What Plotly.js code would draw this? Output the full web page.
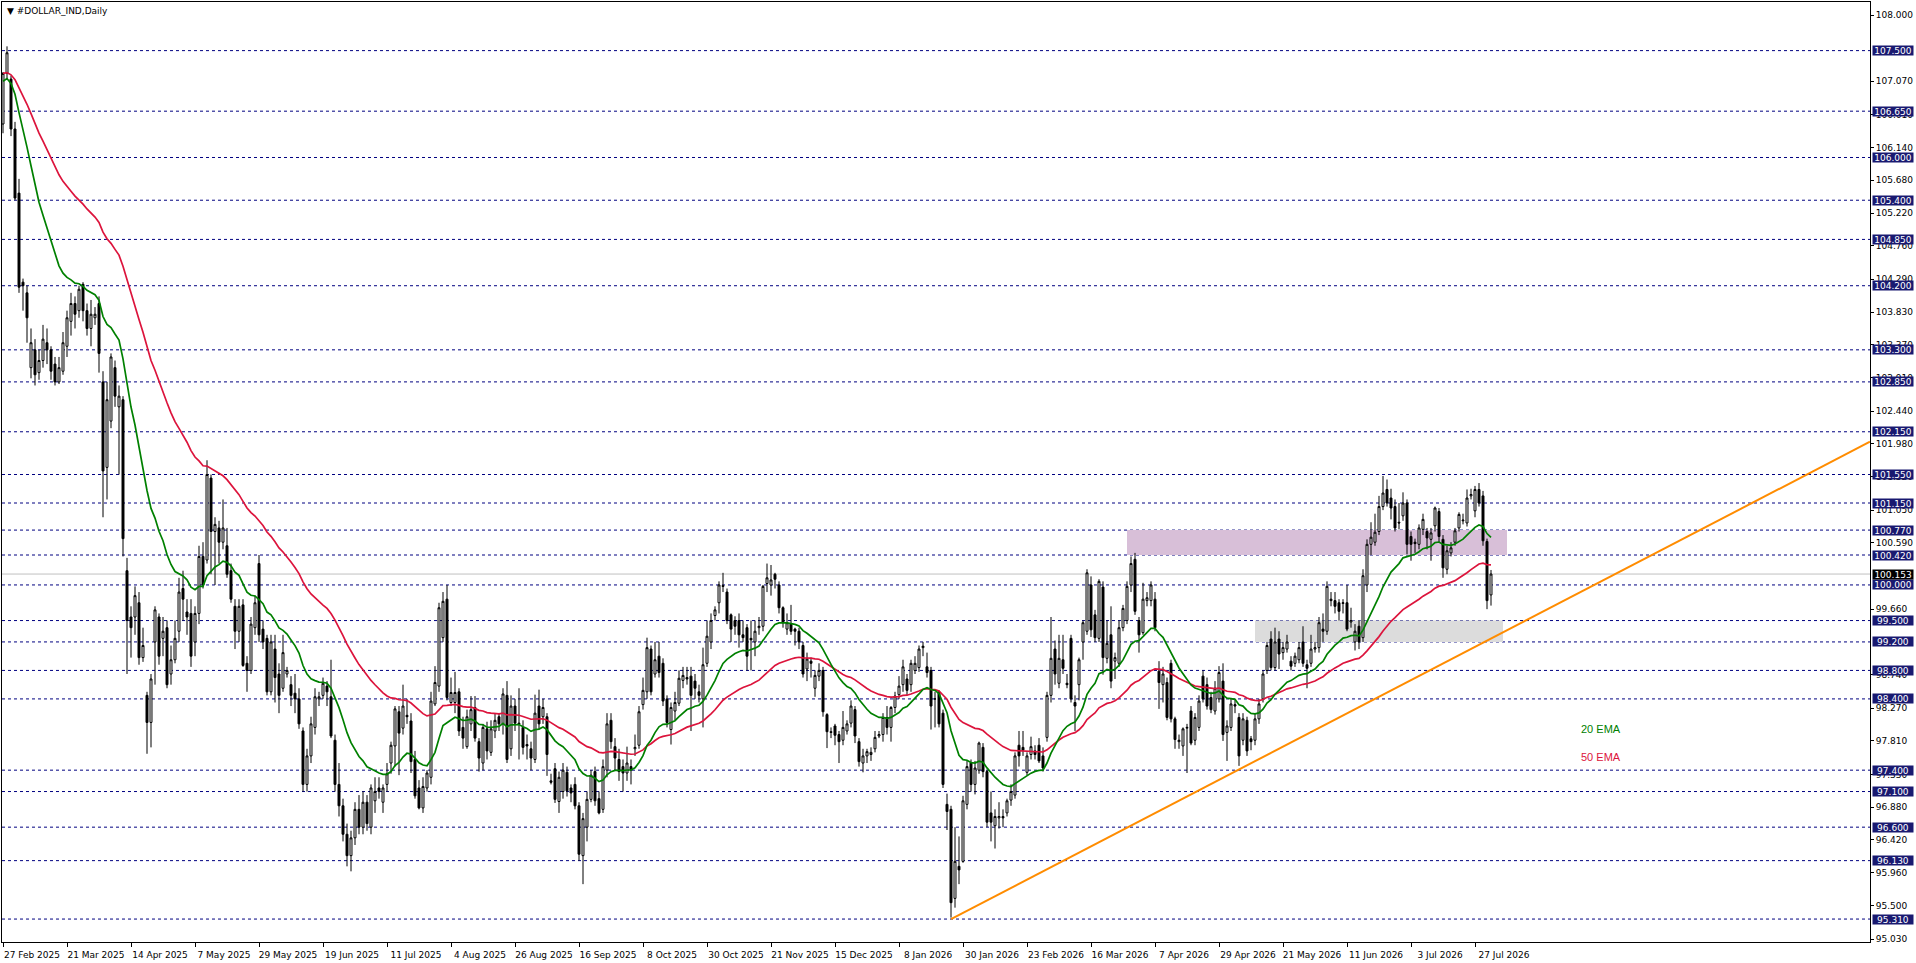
<!DOCTYPE html>
<html><head><meta charset="utf-8">
<script src="https://cdn.plot.ly/plotly-3.0.1.min.js"></script>
<style>html,body{margin:0;padding:0;background:#fff;overflow:hidden}#chart{width:1916px;height:963px}</style>
</head><body><div id="chart"></div>
<script>
// ---- data ----
const dateLabels = ['27 Feb 2025','21 Mar 2025','14 Apr 2025','7 May 2025','29 May 2025','19 Jun 2025','11 Jul 2025','4 Aug 2025','26 Aug 2025','16 Sep 2025','8 Oct 2025','30 Oct 2025','21 Nov 2025','15 Dec 2025','8 Jan 2026','30 Jan 2026','23 Feb 2026','16 Mar 2026','7 Apr 2026','29 Apr 2026','21 May 2026','11 Jun 2026','3 Jul 2026','27 Jul 2026'];
const dateLabelBars = [0,16,32,48,64,80,96,112,128,144,160,176,192,208,224,240,256,272,288,304,320,336,352,368];

const openP = [
106.47,107.18,107.10,106.40,105.50,104.25,104.10,103.05,103.30,102.98,
103.15,103.40,103.30,103.10,102.85,103.00,103.35,103.70,103.95,103.85,
104.22,103.85,103.60,103.75,103.95,102.85,101.65,102.30,103.05,102.50,
102.60,100.20,99.55,99.55,99.75,98.98,98.45,98.07,99.20,99.55,
99.25,99.40,98.75,98.95,99.35,99.95,99.62,99.60,99.20,99.60,
100.40,100.35,101.50,100.75,100.80,100.60,100.55,100.20,99.70,99.35,
99.72,98.90,98.80,99.40,100.30,99.38,99.25,98.50,99.10,98.75,
98.55,98.75,98.60,98.48,98.40,97.95,97.20,97.60,98.00,98.40,
98.45,98.58,98.43,97.82,97.20,96.90,96.50,96.20,96.45,96.85,
96.60,96.95,96.60,96.97,97.15,96.95,97.20,97.50,97.74,98.22,
97.99,98.17,98.09,97.55,97.15,96.87,97.15,97.30,98.33,98.58,
99.26,99.80,98.35,98.35,98.50,98.00,97.73,98.05,98.28,97.80,
97.50,97.98,97.65,97.95,98.15,98.05,98.45,97.70,98.30,98.06,
98.00,97.76,97.70,97.55,98.30,98.15,98.15,97.25,97.42,96.96,
97.10,97.37,97.15,97.20,96.90,96.20,96.60,96.99,97.38,97.00,
96.85,97.40,98.10,97.73,97.55,97.45,97.36,97.45,97.70,97.75,
98.32,98.50,99.10,98.75,99.00,98.90,98.40,97.97,98.23,98.34,
98.66,98.70,98.72,98.65,98.50,98.40,98.90,99.20,99.57,99.75,
99.99,99.90,99.58,99.50,99.50,99.30,99.40,99.25,99.20,99.40,
99.42,100.02,100.00,100.15,100.00,99.68,99.38,99.45,99.38,99.35,
99.15,98.82,98.93,98.55,98.72,98.80,98.18,97.94,98.02,97.90,
97.82,97.95,98.06,98.25,97.80,97.50,97.60,97.62,97.70,97.88,
97.90,98.14,98.00,98.28,98.46,98.60,98.68,98.60,98.80,98.84,
99.12,98.85,98.80,98.40,98.50,98.20,96.92,96.85,95.60,96.05,
96.12,96.92,97.50,97.20,97.40,97.72,97.38,96.80,96.62,96.73,
96.75,96.80,96.98,97.05,97.75,97.72,97.37,97.62,97.67,97.75,
97.60,97.86,98.45,99.10,98.62,98.95,98.62,99.25,98.35,98.60,
99.20,99.35,100.00,99.58,99.25,99.97,98.97,99.30,98.93,98.90,
99.40,99.50,100.00,100.36,99.50,99.33,99.78,99.78,99.80,98.79,
98.60,98.63,98.90,98.12,97.80,97.74,97.99,98.23,97.82,98.00,
98.72,98.60,98.42,98.23,98.40,98.65,97.93,98.00,98.32,98.14,
97.82,98.10,97.84,97.82,98.12,98.40,98.80,99.24,98.84,99.24,
99.05,99.10,98.93,98.90,98.95,99.20,98.88,98.90,99.10,99.12,
99.38,99.35,99.80,99.78,99.75,99.74,99.75,99.48,99.20,99.42,
99.26,100.00,100.57,100.60,100.75,101.10,101.34,101.22,101.10,100.88,
100.97,101.15,100.68,100.60,100.57,100.78,100.75,100.64,100.83,101.03,
100.64,100.22,100.45,100.60,100.80,100.90,100.87,101.25,101.04,101.34,
101.25,100.61,99.86];

const highP = [
107.20,107.56,107.15,106.50,105.70,104.30,104.20,103.60,103.45,103.30,
103.65,103.60,103.35,103.20,103.20,103.55,103.85,104.10,104.05,104.20,
104.25,103.95,104.00,103.90,104.05,103.00,102.85,103.25,103.15,102.80,
102.65,100.38,99.70,99.98,99.90,99.40,98.50,98.75,99.70,99.60,
99.55,99.50,99.15,99.50,100.10,100.20,99.80,99.80,99.70,100.55,
100.60,101.75,101.55,100.95,100.90,101.20,100.80,100.30,99.80,99.80,
99.80,99.00,99.55,99.85,100.42,99.50,99.30,99.30,99.30,98.90,
99.30,98.85,98.72,98.75,98.55,98.00,97.70,98.15,98.55,98.50,
98.70,98.65,98.95,97.90,97.50,97.00,96.65,96.55,96.95,97.05,
97.10,97.05,97.20,97.30,97.30,97.20,97.50,97.80,98.30,98.30,
98.60,98.40,98.20,97.67,97.26,97.30,97.40,98.50,98.86,99.75,
99.90,100.00,98.70,98.78,98.55,98.15,98.25,98.44,98.44,97.85,
98.05,98.08,98.10,98.20,98.20,98.55,98.65,98.45,98.40,98.55,
98.10,97.90,97.80,98.46,98.53,98.40,98.20,97.35,97.50,97.38,
97.50,97.45,97.20,97.30,96.95,96.80,97.10,97.40,97.45,97.10,
97.55,98.20,98.20,97.85,97.70,97.55,97.73,97.55,97.90,98.30,
98.70,99.26,99.15,99.20,99.20,98.97,98.45,98.35,98.50,98.80,
98.85,98.85,98.85,98.75,98.60,99.12,99.50,99.60,99.70,100.05,
100.17,99.95,99.60,99.56,99.60,99.50,99.45,99.50,99.50,99.55,
100.00,100.30,100.28,100.17,100.05,99.70,99.60,99.72,99.40,99.40,
99.20,99.05,98.98,98.80,98.90,98.85,98.20,98.00,98.05,97.95,
98.23,98.10,98.38,98.30,97.85,97.70,97.70,97.72,97.95,97.95,
98.20,98.30,98.30,98.50,98.72,98.95,98.75,98.95,99.00,99.15,
99.20,99.05,98.85,98.50,98.52,98.25,97.07,96.90,96.60,96.47,
97.04,97.53,97.55,97.53,97.80,97.78,97.40,97.10,96.85,96.95,
96.85,97.00,97.20,97.65,97.95,97.95,97.65,97.87,97.75,97.85,
97.72,98.50,99.55,99.22,99.30,99.30,98.75,99.30,98.45,98.98,
99.50,100.22,100.12,99.65,100.08,100.05,99.50,99.70,99.05,99.50,
99.72,100.05,100.40,100.45,99.55,100.03,99.90,100.05,99.90,98.93,
98.85,98.70,98.95,98.15,97.90,98.00,98.05,98.30,98.20,98.45,
98.80,98.70,98.50,98.65,98.86,98.90,98.10,98.40,98.40,98.20,
98.20,98.15,97.88,98.20,98.40,98.80,99.20,99.35,99.40,99.35,
99.20,99.30,99.00,99.05,99.20,99.42,98.95,99.30,99.20,99.55,
99.60,100.05,99.90,99.90,99.80,99.80,100.00,99.68,99.45,99.50,
100.22,100.64,100.88,101.00,101.25,101.53,101.48,101.35,101.20,101.15,
101.30,101.20,100.75,100.65,100.85,101.00,100.80,100.80,101.10,101.08,
100.70,100.55,100.60,100.80,101.02,101.00,101.34,101.35,101.39,101.43,
101.32,100.65,100.21];

const lowP = [
106.34,107.10,106.30,105.40,104.10,103.85,103.40,102.90,102.80,102.88,
103.05,103.10,102.88,102.80,102.82,102.95,103.20,103.50,103.60,103.75,
103.70,103.50,103.35,103.65,102.98,100.95,101.20,102.20,102.50,101.55,
100.40,98.75,98.98,99.30,98.88,98.92,97.63,97.72,98.60,98.88,
99.00,98.55,98.60,98.90,99.20,99.50,99.30,98.85,99.00,99.45,
99.95,100.30,100.15,100.00,100.30,100.50,100.10,99.75,99.10,99.20,
98.85,98.50,98.75,99.30,99.20,99.10,98.45,98.45,98.35,98.20,
98.50,98.70,98.30,98.20,97.98,97.10,97.10,97.50,97.90,98.30,
98.40,98.30,97.85,97.10,96.75,96.40,96.05,95.98,96.35,96.50,
96.50,96.55,96.50,96.80,97.00,96.80,97.10,97.35,97.45,97.33,
97.90,98.05,97.36,97.00,96.85,96.80,97.10,97.20,98.30,98.50,
99.20,98.38,98.30,98.20,97.88,97.70,97.70,97.95,97.80,97.38,
97.40,97.55,97.60,97.85,97.95,97.90,97.50,97.60,97.95,97.55,
97.62,97.55,97.40,97.50,97.97,98.05,97.32,97.20,96.94,96.80,
97.00,97.03,96.95,96.85,96.13,95.80,96.40,96.95,96.90,96.78,
96.80,97.30,97.70,97.40,97.25,97.10,97.25,97.20,97.60,97.70,
98.25,98.40,98.45,98.70,98.70,98.30,98.00,97.76,98.10,98.30,
98.55,98.60,97.95,98.40,98.35,98.00,98.85,99.10,99.50,99.60,
99.90,99.45,99.20,99.30,99.12,99.20,98.80,98.80,99.00,99.30,
99.35,99.90,99.85,99.95,99.60,99.40,99.30,99.30,99.15,99.10,
98.70,98.65,98.70,98.43,98.65,98.15,97.71,97.85,97.75,97.50,
97.75,97.90,98.00,97.78,97.45,97.37,97.50,97.53,97.65,97.85,
97.80,97.90,97.80,98.20,98.40,98.50,98.45,98.50,98.75,98.78,
99.00,98.70,97.97,98.00,98.00,97.15,96.56,95.33,95.47,95.80,
96.10,96.85,97.10,97.06,97.35,97.30,96.60,96.40,96.30,96.58,
96.60,96.75,96.90,97.00,97.45,97.60,97.33,97.55,97.55,97.50,
97.38,97.80,98.35,98.60,98.55,98.75,98.55,98.35,97.95,98.38,
98.95,99.30,99.27,99.20,99.20,98.74,98.90,98.55,98.68,98.85,
99.35,99.45,99.90,99.58,99.05,99.30,99.70,99.70,99.35,98.26,
98.35,98.10,98.07,97.70,97.70,97.60,97.36,97.75,97.75,97.95,
98.35,98.25,98.20,98.18,98.35,97.81,97.53,97.95,98.20,97.46,
97.75,97.60,97.68,97.75,98.05,98.35,98.75,98.80,98.80,98.82,
98.95,99.05,98.80,98.85,98.90,98.85,98.55,98.85,99.05,99.05,
99.20,99.30,99.70,99.60,99.50,99.60,99.35,99.40,99.08,99.10,
99.20,99.90,100.42,100.55,100.70,101.05,101.10,100.92,100.75,100.78,
100.90,100.43,100.34,100.45,100.50,100.70,100.50,100.34,100.75,100.60,
100.10,100.15,100.40,100.55,100.75,100.85,100.82,101.20,100.95,101.10,
100.55,99.66,99.71];

const closeP = [
107.18,107.47,106.40,105.43,104.18,104.20,103.75,103.40,102.95,103.15,
103.45,103.30,103.00,102.85,103.05,103.40,103.75,103.95,103.80,104.15,
103.85,103.60,103.80,103.80,103.25,101.60,102.60,103.20,102.65,102.65,
100.65,99.50,99.40,99.85,98.98,99.15,98.07,98.68,99.65,99.00,
99.35,98.60,98.95,99.25,99.90,99.80,99.55,99.00,99.60,100.40,
100.00,101.55,100.75,100.85,100.60,100.80,100.15,99.80,99.35,99.70,
98.87,98.80,99.45,99.75,99.30,99.20,98.50,99.20,98.70,98.45,
99.05,98.80,98.45,98.40,98.05,97.20,97.60,98.05,98.43,98.43,
98.62,98.50,97.88,97.20,96.90,96.50,96.20,96.45,96.85,96.60,
96.95,96.65,97.15,97.10,97.10,97.15,97.35,97.75,98.26,97.92,
98.30,98.15,97.52,97.04,96.87,97.17,97.36,98.37,98.63,99.68,
99.77,98.42,98.49,98.49,97.95,97.85,98.15,98.25,97.85,97.57,
98.00,97.67,97.98,98.10,98.05,98.47,97.55,98.30,98.06,98.05,
97.72,97.74,97.57,98.20,98.05,98.28,97.62,97.23,96.99,97.30,
97.40,97.11,97.08,96.90,96.22,96.72,96.99,97.33,96.97,96.80,
97.45,98.05,97.80,97.57,97.38,97.36,97.50,97.40,97.72,98.22,
98.52,99.12,98.50,98.95,98.77,98.37,98.07,98.28,98.35,98.69,
98.73,98.68,98.45,98.55,98.45,98.88,99.28,99.50,99.65,100.00,
99.98,99.50,99.38,99.42,99.30,99.26,99.00,99.23,99.35,99.42,
99.98,100.10,100.07,100.08,99.68,99.47,99.47,99.35,99.35,99.20,
98.75,98.96,98.90,98.73,98.80,98.22,97.94,97.93,97.89,97.80,
98.00,98.05,98.30,97.88,97.52,97.60,97.66,97.65,97.86,97.90,
98.14,98.00,98.28,98.44,98.58,98.85,98.52,98.90,98.90,99.10,
99.14,98.77,98.30,98.40,98.05,97.20,96.82,95.54,96.12,96.00,
96.97,97.45,97.20,97.43,97.78,97.38,96.67,96.67,96.75,96.75,
96.73,96.97,97.10,97.60,97.60,97.68,97.60,97.73,97.62,97.53,
97.43,98.45,98.97,98.75,98.97,98.83,98.60,98.40,98.30,98.95,
99.47,100.17,99.37,99.26,100.05,98.98,99.18,98.65,98.98,99.40,
99.67,99.98,100.30,99.63,99.30,99.80,99.82,100.00,99.40,98.63,
98.75,98.14,98.12,97.83,97.82,97.98,98.00,97.78,98.14,98.37,
98.40,98.30,98.25,98.55,98.77,97.90,98.02,98.33,98.30,97.60,
98.12,97.67,97.80,98.12,98.33,98.75,99.15,98.84,99.20,99.03,
99.12,99.20,98.86,99.00,99.12,98.90,98.83,99.10,99.12,99.47,
99.35,99.98,99.78,99.70,99.63,99.75,99.38,99.50,99.35,99.20,
100.13,100.57,100.67,100.74,101.10,101.29,101.15,101.08,100.80,100.87,
101.15,100.57,100.57,100.58,100.80,100.92,100.66,100.73,101.08,100.68,
100.24,100.48,100.52,100.76,100.99,100.91,101.22,101.27,101.34,101.15,
100.62,99.78,100.153];

const ema20Start = 107.07;
const ema50Start = 107.18;

// horizontal level lines drawn on the chart
const levelPrices = [107.5,106.65,106.0,105.4,104.85,104.2,103.3,102.85,102.15,101.55,101.15,100.77,100.42,100.0,99.5,99.2,98.8,98.4,97.4,97.1,96.6,96.13,95.31];
const currentPrice = 100.153;

// price-axis ticks (ticks fully hidden behind level labels in the reference are left out)
const priceTickVals = [108.0,107.07,106.605,106.14,105.68,105.22,104.76,104.29,103.83,103.37,102.91,102.44,101.98,101.52,101.05,100.59,99.66,98.74,98.27,97.81,97.34,96.88,96.42,95.96,95.5,95.03];
const priceTickText = ['108.000','107.070','106.610','106.140','105.680','105.220','104.760','104.290','103.830','103.370','102.910','102.440','101.980','101.520','101.050','100.590','99.660','98.740','98.270','97.810','97.330','96.880','96.420','95.960','95.500','95.030'];

// zones and trendline (bar index, price)
const purpleZoneBars = [281, 376];
const purpleZonePrices = [100.42, 100.77];
const grayZoneBars = [313, 375];
const grayZonePrices = [99.2, 99.5];
const trendBars = [237, 466.75];
const trendPrices = [95.31, 102.01];

// text labels
const emaLabels = ['20 EMA', '50 EMA'];
const emaLabelBars = [394, 394];
const emaLabelPrices = [97.98, 97.58];

// ---- build ----
const barIdx = openP.map((_, i) => i);
function ema(values, period, start) {
  const k = 2 / (period + 1);
  const out = [start];
  for (let i = 1; i < values.length; i++) out.push(out[i - 1] + k * (values[i] - out[i - 1]));
  return out;
}
const ema20 = ema(closeP, 20, ema20Start);
const ema50 = ema(closeP, 50, ema50Start);

const FONT = 'DejaVu Sans';

const traces = [
  {
    type: 'candlestick', x: barIdx, open: openP, high: highP, low: lowP, close: closeP,
    increasing: { line: { color: '#000', width: 1 }, fillcolor: '#ffffff' },
    decreasing: { line: { color: '#000', width: 1 }, fillcolor: '#000000' },
    whiskerwidth: 0, hoverinfo: 'skip', showlegend: false
  },
  { type: 'scatter', mode: 'lines', x: barIdx, y: ema50, line: { color: '#DC143C', width: 1.7 }, hoverinfo: 'skip' },
  { type: 'scatter', mode: 'lines', x: barIdx, y: ema20, line: { color: '#008000', width: 1.7 }, hoverinfo: 'skip' },
  { type: 'scatter', mode: 'lines', x: trendBars, y: trendPrices, line: { color: '#FF8C00', width: 2 }, hoverinfo: 'skip', cliponaxis: true }
];

const shapes = [];
shapes.push({ type: 'rect', xref: 'x', yref: 'y', x0: purpleZoneBars[0], x1: purpleZoneBars[1], y0: purpleZonePrices[0], y1: purpleZonePrices[1], fillcolor: '#D8BFD8', line: { width: 0 }, layer: 'below' });
shapes.push({ type: 'rect', xref: 'x', yref: 'y', x0: grayZoneBars[0], x1: grayZoneBars[1], y0: grayZonePrices[0], y1: grayZonePrices[1], fillcolor: '#DCDCDC', line: { width: 0 }, layer: 'below' });
levelPrices.forEach(v => shapes.push({ type: 'line', xref: 'paper', x0: 0, x1: 1, yref: 'y', y0: v, y1: v, line: { color: '#000080', width: 1, dash: '3px,3px' }, layer: 'below' }));
shapes.push({ type: 'line', xref: 'paper', x0: 0, x1: 1, yref: 'y', y0: currentPrice, y1: currentPrice, line: { color: '#C0C0C0', width: 1 }, layer: 'below' });

const annotations = [];
levelPrices.forEach(v => annotations.push({
  xref: 'paper', x: 1, xanchor: 'left', xshift: 2, yref: 'y', y: v, yanchor: 'middle',
  text: v.toFixed(3), showarrow: false, bgcolor: '#191970', borderpad: 0, width: 40, height: 9,
  font: { family: FONT, size: 9, color: '#ffffff' }
}));
annotations.push({
  xref: 'paper', x: 1, xanchor: 'left', xshift: 2, yref: 'y', y: currentPrice, yanchor: 'middle',
  text: currentPrice.toFixed(3), showarrow: false, bgcolor: '#000000', borderpad: 0, width: 40, height: 9,
  font: { family: FONT, size: 9, color: '#ffffff' }
});
annotations.push({
  xref: 'paper', yref: 'paper', x: 0, y: 1, xanchor: 'left', yanchor: 'top', xshift: 3, yshift: -2,
  text: '▼ #DOLLAR_IND,Daily', showarrow: false, font: { family: FONT, size: 9, color: '#000' }
});
emaLabels.forEach((t, i) => annotations.push({
  xref: 'x', yref: 'y', x: emaLabelBars[i], y: emaLabelPrices[i], xanchor: 'left', yanchor: 'middle',
  text: t, showarrow: false, font: { family: 'Liberation Sans', size: 11, color: i === 0 ? '#008000' : '#DC143C' }
}));

const layout = {
  width: 1916, height: 963,
  margin: { l: 2, r: 46, t: 2, b: 21, pad: 0 },
  paper_bgcolor: '#ffffff', plot_bgcolor: '#ffffff',
  showlegend: false, hovermode: false,
  xaxis: {
    range: [-0.25, 466.75], showgrid: false, zeroline: false,
    showline: true, mirror: true, linecolor: '#000', linewidth: 1,
    ticks: 'outside', ticklen: 4, tickcolor: '#000', tickwidth: 1,
    tickmode: 'array', tickvals: dateLabelBars, ticktext: dateLabels,
    tickfont: { family: FONT, size: 9, color: '#000' }, ticklabelshift: 29,
    rangeslider: { visible: false }, fixedrange: true
  },
  yaxis: {
    side: 'right', range: [94.988, 108.1825], showgrid: false, zeroline: false,
    showline: true, mirror: true, linecolor: '#000', linewidth: 1,
    ticks: 'outside', ticklen: 3, tickcolor: '#000', tickwidth: 1,
    tickmode: 'array', tickvals: priceTickVals, ticktext: priceTickText,
    tickfont: { family: FONT, size: 9, color: '#000' }, fixedrange: true
  },
  shapes: shapes,
  annotations: annotations
};

Plotly.newPlot('chart', traces, layout, { staticPlot: true, displayModeBar: false });
</script>
</body></html>
